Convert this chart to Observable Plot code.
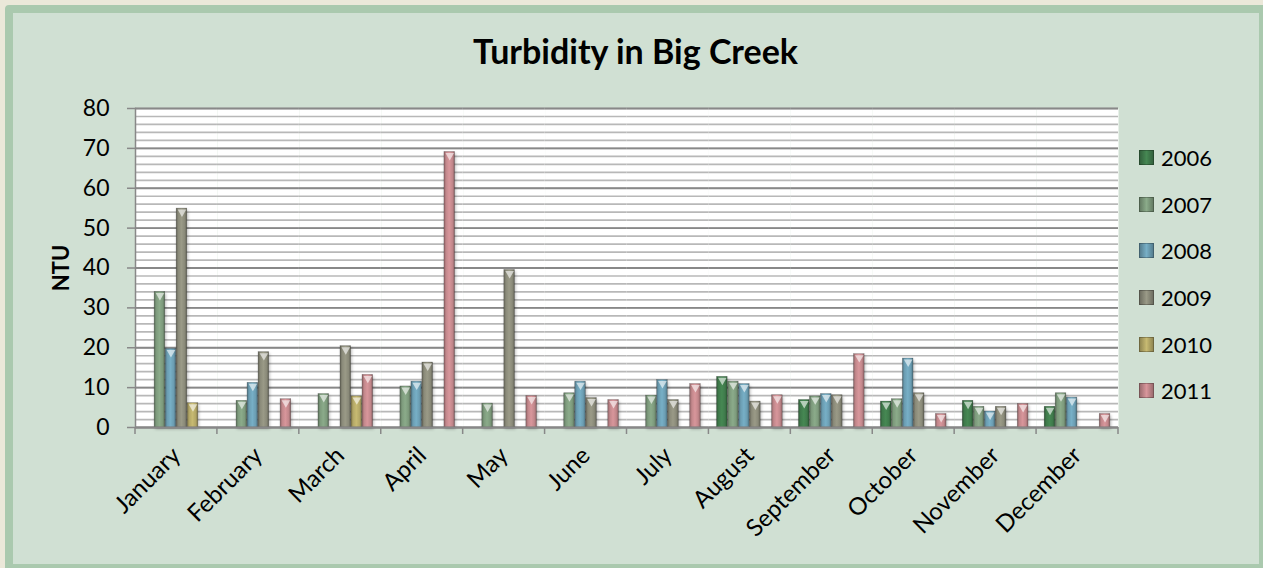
<!DOCTYPE html>
<html>
<head>
<meta charset="utf-8">
<script src="https://cdn.jsdelivr.net/npm/d3@7"></script>
<script src="https://cdn.jsdelivr.net/npm/@observablehq/plot@0.6"></script>
<style>
  html, body { margin: 0; padding: 0; width: 1263px; height: 568px; overflow: hidden; background: #ebe8d9; font-family: Lato, "Open Sans", sans-serif; }
  #panel { position: absolute; left: 5px; top: 5px; width: 1262px; height: 567px; box-sizing: border-box; border: 8px solid #aac9ae; border-radius: 4px; background: #d0e0d3; }
  #title { position: absolute; left: 0; top: 31px; width: 1271px; text-align: center; font-weight: 700; font-size: 34px; line-height: 1.2; color: #000; }
  #ylabel { position: absolute; left: 60px; top: 268px; transform: translate(-50%, -50%) rotate(-90deg); font-weight: 700; font-size: 22px; color: #000; white-space: nowrap; }
  #chart { position: absolute; left: 0; top: 0; }
  #legend { position: absolute; left: 1139px; top: 134px; }
  .item { display: flex; align-items: center; height: 46.7px; font-size: 22px; color: #000; }
  .sw { width: 15px; height: 15px; margin-right: 7px; box-sizing: border-box; border: 1px solid rgba(0,0,0,0.25); }
</style>
</head>
<body>
<div id="panel"></div>
<div id="title">Turbidity in Big Creek</div>
<div id="ylabel">NTU</div>
<div id="chart"></div>
<div id="legend"></div>
<script>
// Monthly turbidity readings (NTU), one array per year; null = no sample
const months = ["January", "February", "March", "April", "May", "June",
                "July", "August", "September", "October", "November", "December"];
const years = ["2006", "2007", "2008", "2009", "2010", "2011"];
const v2006 = [null, null, null, null, null, null, null, 12.7, 6.9, 6.5, 6.7, 5.2];
const v2007 = [34.0, 6.7, 8.4, 10.3, 6.0, 8.6, 8.0, 11.5, 7.8, 7.1, 5.2, 8.6];
const v2008 = [19.7, 11.2, null, 11.5, null, 11.5, 11.9, 10.9, 8.4, 17.3, 4.0, 7.5];
const v2009 = [54.9, 18.9, 20.4, 16.3, 39.5, 7.4, 6.9, 6.5, 8.1, 8.6, 5.2, null];
const v2010 = [6.1, null, 7.8, null, null, null, null, null, null, null, null, null];
const v2011 = [null, 7.1, 13.2, 69.1, 7.9, 6.9, 10.9, 8.1, 18.4, 3.4, 5.9, 3.4];
const yTicks = [0, 10, 20, 30, 40, 50, 60, 70, 80];
const colors = ["#3f7a4b", "#7d9a7c", "#6b9db2", "#8a8a79", "#b3a766", "#c2878b"];

const series = [v2006, v2007, v2008, v2009, v2010, v2011];
const rows = [];
series.forEach((vals, j) => vals.forEach((v, i) => {
  if (v != null) rows.push({month: months[i], year: years[j], value: v});
}));

const W = 1263, H = 568;
const grid = "#888888";

const chart = Plot.plot({
  width: W,
  height: H,
  marginLeft: 135,
  marginRight: 145,
  marginTop: 108,
  marginBottom: 141,
  style: {background: "transparent", fontFamily: "Lato, 'Open Sans', sans-serif", color: "#000", overflow: "visible"},
  fx: {domain: months, padding: 0, round: false, label: null},
  x: {domain: years, paddingInner: 0, paddingOuter: 0.72, round: false, axis: null},
  y: {domain: [0, 80], nice: false, label: null},
  color: {domain: years, range: years.map(y => `url(#bar${y})`)},
  marks: [
    Plot.frame({fill: "white", stroke: null}),
    Plot.gridY({interval: 2, stroke: "#b8b8b8", strokeOpacity: 1, strokeWidth: 1.7}),
    Plot.gridY(yTicks, {stroke: grid, strokeOpacity: 1, strokeWidth: 1.8}),
    Plot.axisY(yTicks, {tickSize: 8, tickPadding: 18, fontSize: 23, stroke: grid, strokeWidth: 1.5, label: null}),
    Plot.frame({anchor: "left", stroke: grid, strokeWidth: 1.5, facetAnchor: "left"}),
    Plot.barY(rows, {fx: "month", x: "year", y: "value", fill: "year",
                     stroke: "rgba(0,0,0,0.3)", strokeWidth: 0.6, insetLeft: 0.2, insetRight: 0.2,
                     imageFilter: "drop-shadow(1px 2px 1.5px rgba(0,0,0,0.28))"}),
    Plot.dot(rows, {fx: "month", x: "year", y: "value", symbol: "triangle", rotate: 180, r: 3.2,
                    fill: "rgba(255,255,255,0.6)", stroke: null, dy: 3.5}),
    Plot.ruleY([0], {stroke: grid, strokeWidth: 1.8}),
    Plot.axisFx({anchor: "bottom", tickRotate: -45, tickSize: 0, tickPadding: 24, fontSize: 24, label: null})
  ]
});

document.getElementById("chart").appendChild(chart);

// Beveled bar fills: darker edges, lighter centre
const svg = d3.select(chart);
const defs = svg.insert("defs", ":first-child");
years.forEach((y, i) => {
  const c = d3.color(colors[i]);
  const g = defs.append("linearGradient").attr("id", "bar" + y)
    .attr("x1", 0).attr("x2", 1).attr("y1", 0).attr("y2", 0);
  [[0, c.darker(0.9)], [0.2, c], [0.5, c.brighter(0.3)], [0.8, c], [1, c.darker(0.9)]]
    .forEach(([o, col]) => g.append("stop").attr("offset", o).attr("stop-color", col.formatHex()));
});

// Category boundary tick marks below the x axis
const fx = chart.scale("fx");
const y0 = chart.scale("y").apply(0);
const edges = months.map(m => fx.apply(m));
edges.push(fx.apply(months[months.length - 1]) + fx.bandwidth);
const tg = svg.append("g").attr("stroke", grid).attr("stroke-width", 1.5);
edges.forEach(x => tg.append("line").attr("x1", x).attr("x2", x).attr("y1", y0).attr("y2", y0 + 7));

// Legend
const legend = d3.select("#legend");
years.forEach((y, i) => {
  const c = d3.color(colors[i]);
  const item = legend.append("div").attr("class", "item");
  item.append("div").attr("class", "sw")
    .style("background", `linear-gradient(to right, ${c.darker(0.6).formatHex()}, ${c.brighter(0.3).formatHex()} 50%, ${c.darker(0.6).formatHex()})`);
  item.append("span").text(y);
});
</script>
</body>
</html>
